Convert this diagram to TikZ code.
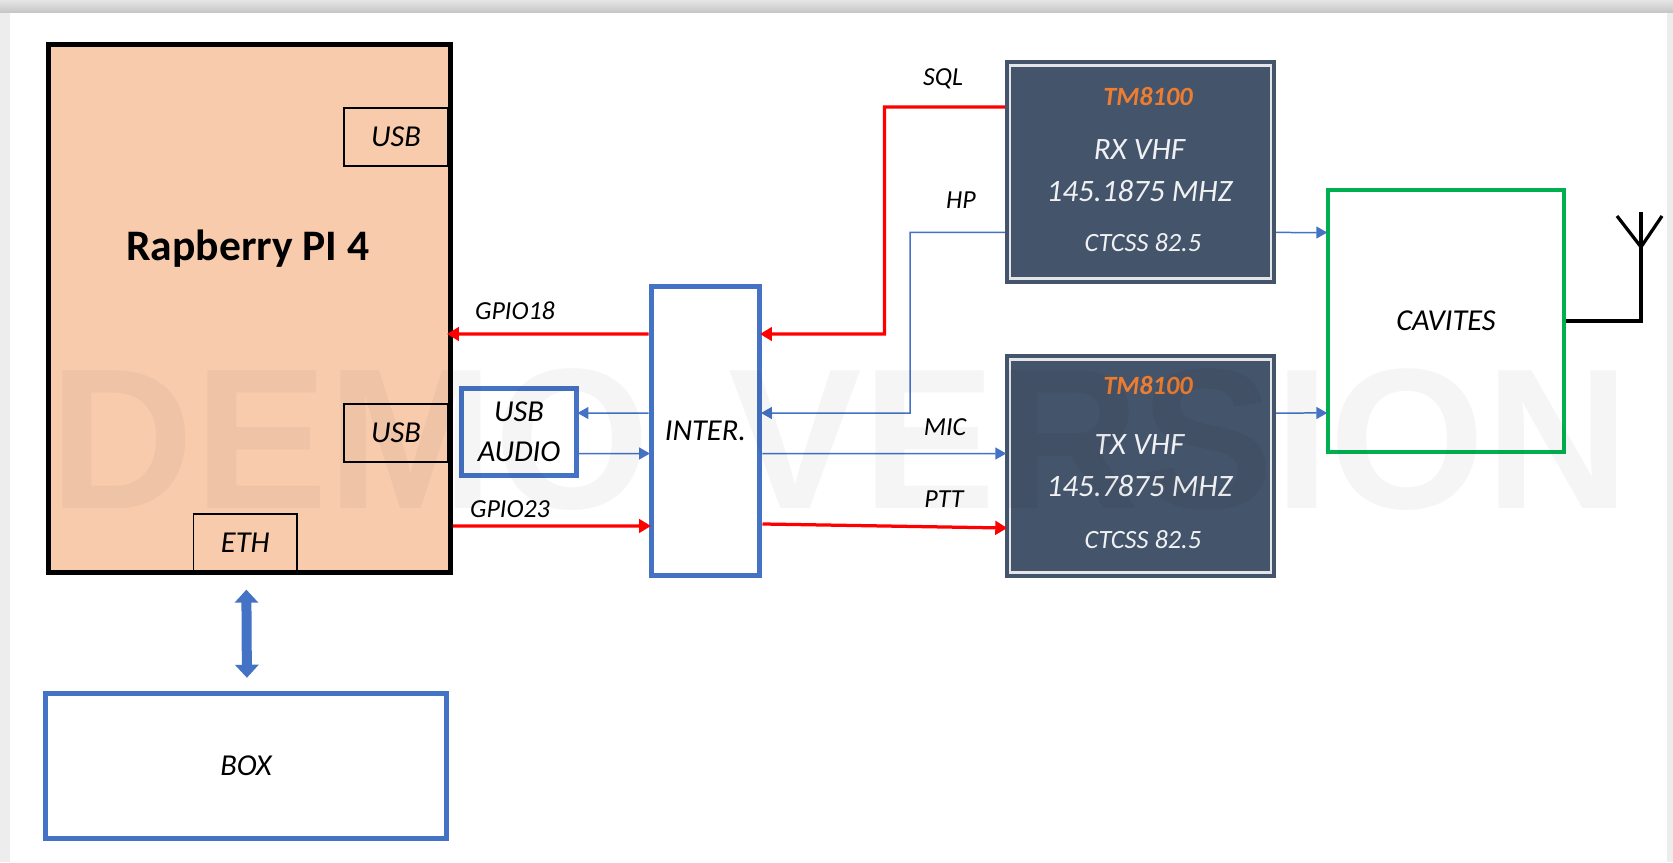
\documentclass[tikz,border=0pt]{standalone}
\usepackage{fontspec}
\setmainfont{Carlito}
\newfontfamily\markfont{Liberation Sans}
\usetikzlibrary{arrows.meta,positioning,calc}
\definecolor{pifill}{HTML}{F8CBAD}
\definecolor{boxblue}{HTML}{4472C4}
\definecolor{cavgreen}{HTML}{00B050}
\definecolor{radiodark}{HTML}{44546A}
\definecolor{tmorange}{HTML}{ED7D31}
\definecolor{sheetgray}{HTML}{EDEDED}

\begin{document}
\begin{tikzpicture}[
    x=0.02cm, y=-0.02cm,
    pibox/.style={rectangle, draw=black, fill=pifill, line width=0.1cm, minimum width=8.05cm, minimum height=10.57cm},
    port/.style={rectangle, draw=black, line width=0.026cm, font=\fontsize{17.3}{20}\selectfont\itshape},
    bluebox/.style={rectangle, draw=boxblue, fill=white, line width=0.1cm, font=\fontsize{17.3}{20}\selectfont\itshape},
    radio/.style={rectangle, draw=radiodark, fill=radiodark, line width=0.03cm, minimum width=5.4cm, minimum height=4.46cm},
    radioline/.style={rectangle, draw=white!85!radiodark, line width=0.045cm, minimum width=5.22cm, minimum height=4.26cm},
    model/.style={font=\fontsize{15}{18}\selectfont\bfseries\itshape, text=tmorange},
    band/.style={font=\fontsize{17.7}{20}\selectfont\itshape, text=white!92!radiodark},
    tone/.style={font=\fontsize{15}{18}\selectfont\itshape, text=white!92!radiodark},
    sig/.style={font=\fontsize{14.8}{18}\selectfont\itshape},
    redline/.style={-{Triangle[length=0.24cm,width=0.27cm]}, red, line width=0.065cm, shorten >=-0.05cm},
    blueline/.style={-{Triangle[length=0.22cm,width=0.24cm]}, boxblue, line width=0.03cm, shorten >=-0.03cm},
    antenna/.style={black, line width=0.065cm}
]
\useasboundingbox (0,0) rectangle (1673,862);

% ============ sheet ============
\fill[sheetgray] (0,0) rectangle (1673,862);
\fill[white] (10,12) rectangle (1667,862);
\shade[top color=white!90!black, bottom color=black!22] (0,0) rectangle (1673,12);

% ============ Raspberry side ============
\node[pibox] (pi) at (249.25,308.75) {};
\node[font=\fontsize{24.8}{28}\selectfont\bfseries] (pi-title) at (248,249) {Rapberry PI 4};
\node[port, minimum width=2.08cm, minimum height=1.16cm] (usb-a) at (396,137) {USB};
\node[port, minimum width=2.08cm, minimum height=1.16cm] (usb-b) at (396,433) {USB};
\node[port, minimum width=2.07cm, minimum height=1.14cm] (eth) at (245.25,542.5) {ETH};
\node[bluebox, minimum width=8.04cm, minimum height=2.89cm] (box) at (246,766) {BOX};

\draw[{Triangle[length=0.26cm,width=0.46cm]}-{Triangle[length=0.26cm,width=0.46cm]}, boxblue, line width=0.2cm, shorten <=0.36cm, shorten >=0.27cm] ([xshift=0.02cm]eth.south) -- ([xshift=0.02cm]box.north);

% ============ interface ============
\node[bluebox, minimum width=2.18cm, minimum height=5.8cm] (inter) at (705.5,431) {INTER.\hspace{3pt}};
\node[bluebox, minimum width=2.3cm, minimum height=1.76cm, align=center, fill=none] (audio) at (519,432) {USB\\[3pt]AUDIO};

% ============ radios ============
\node[radio] (rx) at (1140.5,172) {};
\node[radioline] (rx-line) at (rx) {};
\node[model] (rx-model) at (1148,97) {TM8100};
\node[band] (rx-name) at (1139.5,150) {RX VHF};
\node[band] (rx-freq) at (1139.5,191) {145.1875 MHZ};
\node[tone] (rx-tone) at (1143,243) {CTCSS 82.5};

\node[radio] (tx) at (1140.5,466) {};
\node[radioline] (tx-line) at (tx) {};
\node[model] (tx-model) at (1148,386) {TM8100};
\node[band] (tx-name) at (1139.5,445) {TX VHF};
\node[band] (tx-freq) at (1139.5,486.5) {145.7875 MHZ};
\node[tone] (tx-tone) at (1143,540) {CTCSS 82.5};

\node[rectangle, draw=cavgreen, fill=white, line width=0.09cm, minimum width=4.72cm, minimum height=5.24cm, font=\fontsize{17.3}{20}\selectfont\itshape] (cav) at (1446,321) {CAVITES\hspace{3pt}};

% ============ signals ============
\node[sig] (lab-sql) at (943,79) {SQL};
\node[sig] (lab-hp) at (961,200) {HP};
\node[sig] (lab-g18) at (515,311) {GPIO18};
\node[sig] (lab-g23) at (510,509) {GPIO23};
\node[sig] (lab-mic) at (945,427) {MIC};
\node[sig] (lab-ptt) at (944,499) {PTT};

\draw[redline] ([yshift=1.3cm]rx.west) -| (884.5,334) -- ([yshift=1.94cm]inter.east);
\draw[redline, shorten >=-0.12cm] ([yshift=1.94cm]inter.west) -- ([yshift=-0.505cm]pi.east);
\draw[redline] ([yshift=-4.345cm]pi.east) -- ([yshift=-1.9cm]inter.west);
\draw[redline] ([yshift=-1.86cm]inter.east) -- ([yshift=-1.24cm]tx.west);
\draw[blueline] ([yshift=-1.21cm]rx.west) -| (910,413) -- ([yshift=0.36cm]inter.east);
\draw[blueline] ([yshift=0.36cm]inter.west) -- ([yshift=0.38cm]audio.east);
\draw[blueline] ([yshift=-0.43cm]audio.east) -- ([yshift=-0.45cm]inter.west);
\draw[blueline] ([yshift=-0.45cm]inter.east) -- ([yshift=0.25cm]tx.west);
\draw[blueline] ([yshift=-1.21cm]rx.east) -- ([yshift=1.77cm]cav.west);
\draw[blueline] ([yshift=1.06cm]tx.east) -- ([yshift=-1.84cm]cav.west);

% ============ antenna ============
\coordinate (ant-top) at (1641,212);
\coordinate (ant-foot) at (1641,247);
\draw[antenna] (cav.east) -| (ant-top);
\draw[antenna] (1617,216) -- (ant-foot) -- (1662,216);

% ============ watermark ============
\node[font=\markfont\fontsize{114}{114}\selectfont\bfseries, text=black, text opacity=0.04] (demo) at (840,440) {DEMO\hspace{13pt} VERSION};

\end{tikzpicture}
\end{document}
